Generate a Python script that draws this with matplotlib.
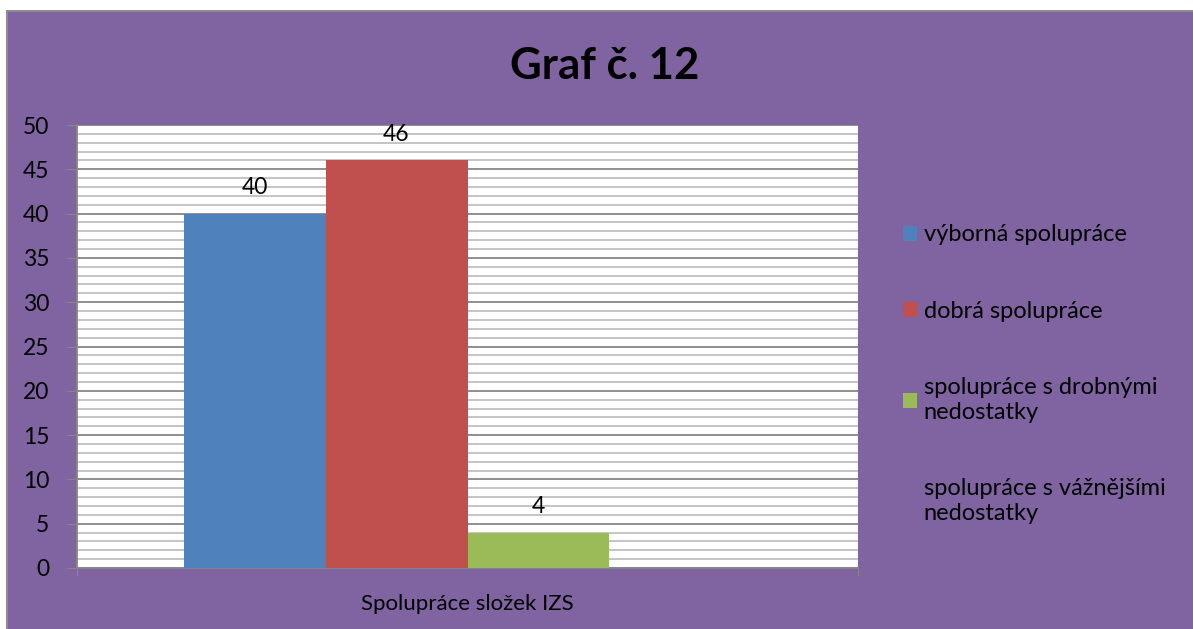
import numpy as np
import matplotlib.pyplot as plt
from matplotlib.patches import Rectangle

plt.rcParams['font.family'] = ['Lato', 'DejaVu Sans']

# data
category = "Spolupráce složek IZS"
series = ["výborná spolupráce",
          "dobrá spolupráce",
          "spolupráce s drobnými\nnedostatky",
          "spolupráce s vážnějšími\nnedostatky"]
values = [40, 46, 4, 0]
colors = ["#4F81BD", "#C0504D", "#9BBB59", "#8064A2"]

purple = "#8064A2"

fig = plt.figure(figsize=(11.93, 6.29), dpi=100)
fig.patch.set_facecolor("white")
# purple chart area with grey border (top/left)
fig.patches.append(Rectangle((7/1193, -0.01), 1.0, (629-11)/629 + 0.01,
                             transform=fig.transFigure, facecolor=purple,
                             edgecolor="#8c8c8c", linewidth=1.5, zorder=-5))

ax = fig.add_axes([77/1193, 61/629, 781/1193, 443/629])
ax.set_facecolor("white")

w = 0.1818
offsets = (np.arange(len(values)) - 1.5) * w
bars = ax.bar(offsets, values, width=w, color=colors, label=series, zorder=3)

for x, v in zip(offsets, values):
    if v > 0:
        ax.annotate(str(v), (x, v), xytext=(0, 11), textcoords="offset points",
                    ha="center", va="bottom", fontsize=16.5)

ax.set_xlim(-0.5, 0.5)
ax.set_ylim(0, 50)
ax.set_yticks(np.arange(0, 51, 5))
ax.set_yticks(np.arange(0, 51, 1), minor=True)
ax.grid(axis="y", which="minor", color="#bfbfbf", linewidth=1.3, zorder=1)
ax.grid(axis="y", which="major", color="#868686", linewidth=1.3, zorder=1)
ax.tick_params(axis="y", which="major", length=7, color="#868686",
               labelsize=16.5, pad=13)
ax.tick_params(axis="y", which="minor", length=0)

ax.set_xticks([-0.5, 0.5])
ax.set_xticklabels(["", ""])
ax.set_xticks([0], minor=True)
ax.set_xticklabels([category], minor=True)
ax.tick_params(axis="x", which="major", length=6, color="#868686")
ax.tick_params(axis="x", which="minor", length=0, labelsize=16, pad=19)

for s in ["top", "right"]:
    ax.spines[s].set_visible(False)
for s in ["left", "bottom"]:
    ax.spines[s].set_color("#868686")
    ax.spines[s].set_linewidth(1.3)

fig.text(605/1193, 1 - 66/629, "Graf č. 12", ha="center", va="center",
         fontsize=31.5, fontweight="bold")

leg = ax.legend(loc="upper left", bbox_to_anchor=(1.045, 0.797), frameon=False,
                fontsize=17, labelspacing=2.35, handlelength=0.6,
                handleheight=0.6, handletextpad=0.3, borderaxespad=0)
for t in leg.get_texts():
    t.set_linespacing(1.2)

fig.savefig("out.png", dpi=100, facecolor=fig.get_facecolor())
